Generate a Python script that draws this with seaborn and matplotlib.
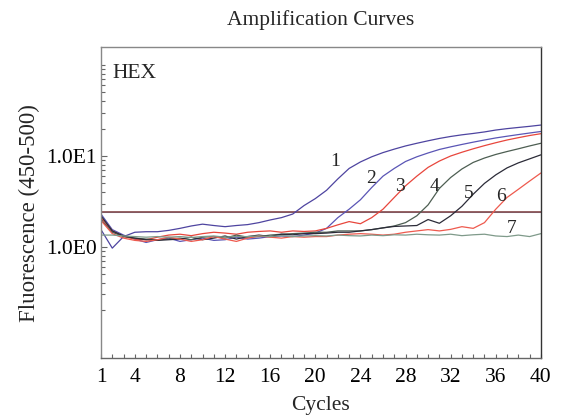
import numpy as np
import pandas as pd
import matplotlib
matplotlib.use("Agg")
import matplotlib.pyplot as plt
import matplotlib.ticker as mticker
import seaborn as sns

# cycle numbers and fluorescence readings
cycles = list(range(1, 41))

curve1 = [1.55, 0.97, 1.3, 1.45, 1.47, 1.47, 1.52, 1.6, 1.7, 1.78,
          1.72, 1.67, 1.72, 1.76, 1.85, 1.98, 2.1, 2.3, 2.85, 3.4,
          4.2, 5.6, 7.3, 8.6, 9.8, 10.9, 11.9, 12.9, 13.8, 14.7,
          15.6, 16.4, 17.1, 17.7, 18.4, 19.3, 20.0, 20.6, 21.2, 21.9]
curve2 = [2.3, 1.55, 1.35, 1.22, 1.12, 1.2, 1.25, 1.15, 1.2, 1.25,
          1.18, 1.2, 1.28, 1.22, 1.25, 1.3, 1.32, 1.3, 1.35, 1.42,
          1.6, 2.1, 2.6, 3.3, 4.5, 6.0, 7.3, 8.7, 9.8, 10.8,
          11.8, 12.6, 13.4, 14.2, 15.0, 15.8, 16.5, 17.2, 17.9, 18.6]
curve3 = [2.1, 1.5, 1.3, 1.22, 1.2, 1.28, 1.35, 1.38, 1.33, 1.4,
          1.45, 1.42, 1.38, 1.45, 1.48, 1.5, 1.45, 1.5, 1.48, 1.5,
          1.6, 1.75, 1.9, 1.8, 2.1, 2.6, 3.5, 4.7, 6.0, 7.5,
          8.8, 10.0, 11.0, 12.0, 13.0, 14.0, 15.0, 15.9, 16.8, 17.6]
curve4 = [2.0, 1.45, 1.3, 1.25, 1.22, 1.2, 1.22, 1.25, 1.2, 1.28,
          1.3, 1.25, 1.35, 1.28, 1.3, 1.35, 1.38, 1.4, 1.42, 1.45,
          1.45, 1.5, 1.5, 1.5, 1.55, 1.62, 1.7, 1.85, 2.2, 2.9,
          4.4, 5.8, 7.2, 8.5, 9.5, 10.4, 11.2, 12.0, 12.9, 13.8]
curve5 = [2.2, 1.5, 1.32, 1.25, 1.2, 1.18, 1.2, 1.22, 1.28, 1.2,
          1.25, 1.32, 1.22, 1.3, 1.35, 1.3, 1.38, 1.36, 1.4, 1.4,
          1.42, 1.45, 1.45, 1.5, 1.55, 1.62, 1.68, 1.7, 1.72, 2.0,
          1.82, 2.2, 2.8, 3.8, 5.0, 6.2, 7.4, 8.4, 9.3, 10.3]
curve6 = [1.95, 1.4, 1.25, 1.18, 1.15, 1.2, 1.28, 1.22, 1.15, 1.2,
          1.3, 1.22, 1.15, 1.25, 1.32, 1.28, 1.25, 1.3, 1.28, 1.3,
          1.3, 1.35, 1.38, 1.4, 1.38, 1.35, 1.38, 1.45, 1.5, 1.55,
          1.5, 1.56, 1.67, 1.6, 1.85, 2.6, 3.5, 4.3, 5.3, 6.5]
curve7 = [1.35, 1.35, 1.32, 1.3, 1.28, 1.3, 1.28, 1.3, 1.27, 1.3,
          1.32, 1.28, 1.3, 1.3, 1.32, 1.3, 1.33, 1.3, 1.32, 1.33,
          1.32, 1.35, 1.33, 1.32, 1.35, 1.33, 1.36, 1.35, 1.38, 1.36,
          1.35, 1.38, 1.33, 1.36, 1.38, 1.32, 1.3, 1.35, 1.3, 1.4]

curve_names = ["1", "2", "3", "4", "5", "6", "7"]
curve_colors = ["#4e44a0", "#5a55b5", "#e8463c", "#4d5e52", "#2b2b38", "#ee5a4e", "#7f9a8a"]
label_x = [21.8, 24.9, 27.5, 30.6, 33.6, 36.5, 37.4]
label_y = [8.6, 5.7, 4.6, 4.6, 3.85, 3.55, 1.58]

threshold = 2.44

# y ticks: labelled decades and the minor ticks drawn in the reference
y_major = [1, 10]
y_major_labels = ["1.0E0", "1.0E1"]
y_minor = [0.2, 0.3, 0.4, 0.5, 0.6, 0.7, 0.8, 0.9,
           2, 3, 4, 5, 6, 7, 8, 9,
           20, 30, 40, 50, 60, 70, 80, 90, 100]
x_major = [1, 4, 8, 12, 16, 20, 24, 28, 32, 36, 40]

df = pd.DataFrame({
    "Cycle": cycles * 7,
    "Fluorescence": curve1 + curve2 + curve3 + curve4 + curve5 + curve6 + curve7,
    "Sample": np.repeat(curve_names, len(cycles)),
})

sns.set_style("white")
plt.rcParams["font.family"] = ["Liberation Serif", "DejaVu Serif"]

fig = plt.figure(figsize=(5.63, 4.15), dpi=100)
ax = fig.add_axes([0.1794, 0.1373, 0.7813, 0.7494])

sns.lineplot(data=df, x="Cycle", y="Fluorescence", hue="Sample",
             palette=curve_colors, linewidth=0.9, legend=False, ax=ax)

# threshold line
ax.axhline(threshold, color="#7a3838", linewidth=1.1, zorder=1)
ax.axhline(threshold * 0.985, color="#a9bfe0", linewidth=0.8, zorder=0.9)

ax.set_yscale("log")
ax.set_xlim(1, 40)
ax.set_ylim(0.06, 158)

ax.set_xticks(range(1, 41), minor=True)
ax.set_xticks(x_major)
ax.yaxis.set_major_locator(mticker.FixedLocator(y_major))
ax.yaxis.set_major_formatter(mticker.FixedFormatter(y_major_labels))
ax.yaxis.set_minor_locator(mticker.FixedLocator(y_minor))
ax.yaxis.set_minor_formatter(mticker.NullFormatter())

ax.tick_params(axis="both", which="both", direction="in", colors="#666666",
               labelcolor="black", labelsize=15.5, left=True, bottom=True,
               top=False, right=False)
ax.tick_params(axis="y", which="major", length=4, width=0.8, pad=3)
ax.tick_params(axis="y", which="minor", length=3, width=0.8)
ax.tick_params(axis="x", which="both", length=3, width=0.8)
ax.tick_params(axis="x", which="major", pad=7)

for side in ["left", "bottom", "right", "top"]:
    ax.spines[side].set_color("#888888")
    ax.spines[side].set_linewidth(1.0)
ax.spines["right"].set_color("#333333")
ax.spines["bottom"].set_color("#666666")

for name, lx, ly in zip(curve_names, label_x, label_y):
    ax.text(lx, ly, name, fontsize=14, ha="center", va="center")

ax.text(0.025, 0.916, "HEX", transform=ax.transAxes, fontsize=15.5,
        ha="left", va="center")

ax.set_title("Amplification Curves", fontsize=15.5, pad=16)
ax.set_xlabel("Cycles", fontsize=15.5, labelpad=7)
ax.set_ylabel("Fluorescence (450-500)", fontsize=16.5)
ax.yaxis.set_label_coords(-0.138, 0.466)

fig.savefig("out.png", dpi=100)
